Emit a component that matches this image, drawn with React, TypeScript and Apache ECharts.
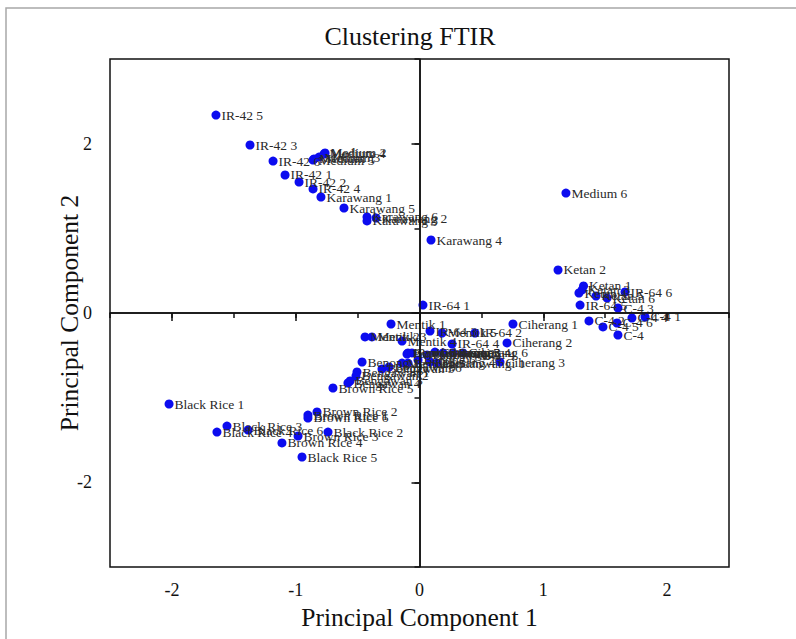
import React, { useEffect, useRef } from "react";
import * as echarts from "echarts";

const names = [
  "IR-42 5", "IR-42 3", "IR-42 6", "Medium 2", "Medium 4", "Medium 3", "Medium 1", "Medium 5",
  "IR-42 1", "IR-42 2", "IR-42 4", "Karawang 1", "Karawang 5", "Karawang 6", "Karawang 2", "Karawang 3",
  "Karawang 4", "Medium 6", "Ketan 2", "Ketan 1", "Ketan 3", "Ketan 4", "Ketan 5", "Ketan 6",
  "IR-64 6", "IR-64 5", "C-4 3", "C-4 4", "C-4 1", "C-4 2", "C-4 5", "C-4 6", "C-4",
  "IR-64 1", "Mentik 1", "IR-64 3", "Mentik 5", "IR-64 2", "Ciherang 1", "Mentik 2", "Mentik 3",
  "Mentik 4", "IR-64 4", "Ciherang 2", "Benong 2", "Ciherang 5", "Benong 3", "Benong 4", "Ciherang 6",
  "Ciherang 3", "Benong 1", "Mentik 6", "Benong 5", "Benong 6", "Ciherang 4", "Pandanwangi 1",
  "Pandanwangi 2", "Pandanwangi 3", "Pandanwangi 4", "Bengawan 5", "Bengawan 6", "Bengawan 1",
  "Bengawan 2", "Bengawan 3", "Bengawan 4", "Brown Rice 5",
  "Black Rice 1", "Brown Rice 2", "Brown Rice 1", "Brown Rice 6", "Black Rice 3", "Black Rice 4",
  "Black Rice 6", "Brown Rice 3", "Black Rice 2", "Brown Rice 4", "Black Rice 5",
];

const pc1 = [
  -1.644, -1.369, -1.183, -0.763, -0.771, -0.812, -0.852, -0.86,
  -1.086, -0.973, -0.86, -0.796, -0.61, -0.424, -0.351, -0.424,
  0.093, 1.183, 1.119, 1.325, 1.313, 1.288, 1.426, 1.515,
  1.66, 1.297, 1.603, 1.716, 1.822, 1.369, 1.482, 1.595, 1.603,
  0.028, -0.23, 0.085, 0.182, 0.448, 0.755, -0.44, -0.384,
  -0.141, 0.263, 0.707, -0.093, 0.125, 0.19, 0.271, 0.351,
  0.65, -0.464, -0.141, -0.093, -0.012, 0.085, 0.141,
  -0.101, -0.061, 0.061, -0.303, -0.246, -0.505,
  -0.513, -0.561, -0.578, -0.699,
  -2.023, -0.828, -0.901, -0.901, -1.555, -1.636,
  -1.385, -0.981, -0.739, -1.111, -0.949,
];

const pc2 = [
  2.338, 1.984, 1.795, 1.89, 1.878, 1.842, 1.819, 1.807,
  1.63, 1.547, 1.465, 1.37, 1.24, 1.134, 1.122, 1.087,
  0.862, 1.417, 0.508, 0.319, 0.272, 0.236, 0.201, 0.177,
  0.248, 0.094, 0.059, -0.059, -0.047, -0.094, -0.165, -0.118, -0.26,
  0.094, -0.13, -0.213, -0.236, -0.236, -0.13, -0.283, -0.283,
  -0.331, -0.366, -0.354, -0.472, -0.461, -0.472, -0.472, -0.472,
  -0.579, -0.579, -0.591, -0.591, -0.555, -0.579, -0.591,
  -0.484, -0.472, -0.496, -0.661, -0.638, -0.697,
  -0.744, -0.803, -0.827, -0.886,
  -1.075, -1.169, -1.205, -1.24, -1.335, -1.406,
  -1.382, -1.453, -1.406, -1.535, -1.701,
];

const xMajorTicks = [-2, -1, 0, 1, 2];
const yMajorTicks = [-2, 0, 2];

const SERIF = "'Liberation Serif', 'Times New Roman', serif";

export default function App() {
  const ref = useRef<HTMLDivElement>(null);
  useEffect(() => {
    if (!ref.current) return;
    const chart = echarts.init(ref.current, null, { renderer: "svg" });
    const data = names.map((n, i) => ({ name: n, value: [pc1[i], pc2[i]] }));
    const axisLine = { show: true, lineStyle: { color: "#111", width: 1.5 } };
    chart.setOption({
      animation: false,
      backgroundColor: "#fff",
      grid: { left: 110, right: 67, top: 59, bottom: 72, show: true, borderColor: "#111", borderWidth: 1.5 },
      graphic: [
        { type: "rect", shape: { x: 6, y: 8, width: 820, height: 700 }, style: { fill: "none", stroke: "#a8a8a8", lineWidth: 1.5 }, silent: true },
        { type: "text", x: 410, y: 23, style: { text: "Clustering FTIR", font: `26px ${SERIF}`, textAlign: "center", fill: "#111" } },
      ],
      xAxis: [
        {
          type: "value", min: -2.5, max: 2.5, interval: 0.5, position: "bottom",
          axisLine,
          axisTick: { show: true, length: 5, lineStyle: { color: "#111", width: 1.5 } },
          axisLabel: {
            formatter: (v: number) => (Number.isInteger(v) ? String(v) : ""),
            fontFamily: SERIF, fontSize: 18, color: "#111", margin: 14,
          },
          splitLine: { show: false },
          name: "Principal Component 1", nameLocation: "middle", nameGap: 37,
          nameTextStyle: { fontFamily: SERIF, fontSize: 25.5, color: "#111" },
        },
        {
          type: "value", min: -2.5, max: 2.5, position: "bottom",
          axisLine: { show: false },
          axisTick: { show: true, customValues: xMajorTicks, length: 8, lineStyle: { color: "#111", width: 1.5 } },
          axisLabel: { show: false },
          splitLine: { show: false },
        },
      ],
      yAxis: [
        {
          type: "value", min: -3, max: 3, interval: 1, position: "left",
          axisLine,
          axisTick: { show: true, length: 5, lineStyle: { color: "#111", width: 1.5 } },
          axisLabel: {
            formatter: (v: number) => (v % 2 === 0 ? String(v) : ""),
            fontFamily: SERIF, fontSize: 18, color: "#111", margin: 18,
          },
          splitLine: { show: false },
          name: "Principal Component 2", nameLocation: "middle", nameGap: 28,
          nameMoveOverlap: false,
          nameTextStyle: { fontFamily: SERIF, fontSize: 25.5, color: "#111" },
        },
        {
          type: "value", min: -3, max: 3, position: "left",
          axisLine: { show: false },
          axisTick: { show: true, customValues: yMajorTicks, length: 8, lineStyle: { color: "#111", width: 1.5 } },
          axisLabel: { show: false },
          splitLine: { show: false },
        },
      ],
      series: [
        {
          type: "scatter",
          data,
          symbolSize: 9,
          itemStyle: { color: "#0c0cef", opacity: 1 },
          label: {
            show: true, position: "right", distance: 1,
            formatter: (p: any) => p.name,
            fontFamily: SERIF, fontSize: 13.5, color: "#2a2a2a",
          },
          markLine: {
            silent: true, symbol: "none", animation: false,
            label: { show: false },
            lineStyle: { color: "#111", width: 1.5, type: "solid" },
            data: [{ xAxis: 0 }, { yAxis: 0 }],
          },
          z: 3,
        },
      ],
    });
    return () => chart.dispose();
  }, []);
  return <div ref={ref} style={{ position: "fixed", left: 0, top: 0, width: 796, height: 639 }} />;
}
